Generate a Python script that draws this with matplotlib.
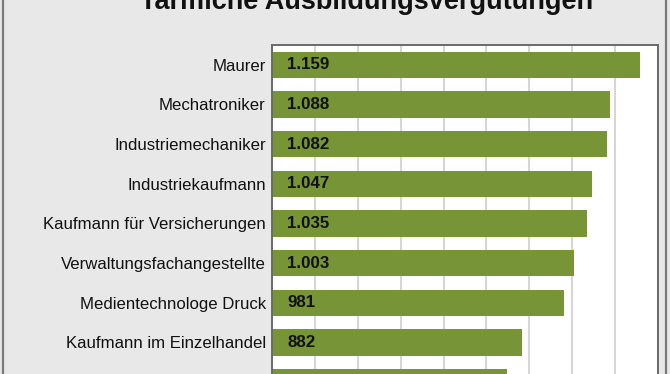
import matplotlib.pyplot as plt
from matplotlib.lines import Line2D

# Data (last bar is cut off at the bottom)
berufe = ['Maurer', 'Mechatroniker', 'Industriemechaniker', 'Industriekaufmann',
          'Kaufmann für Versicherungen', 'Verwaltungsfachangestellte',
          'Medientechnologe Druck', 'Kaufmann im Einzelhandel',
          'Kaufmann für Büromanagement']
verguetung = [1159, 1088, 1082, 1047, 1035, 1003, 981, 882, 849]
x_ticks = list(range(300, 1201, 100))

bar_color = '#779537'
bg_color = '#e8e8e8'


def fmt_de(v):
    return '{:,}'.format(v).replace(',', '.')


def main():
    plt.rcParams['font.family'] = ['Liberation Sans', 'DejaVu Sans']
    fig = plt.figure(figsize=(6.7, 3.74), dpi=100, facecolor=bg_color)

    # axes box: x 272..658 px, y 45..402 px (runs off the bottom edge)
    W, H = 670.0, 374.0
    ax = fig.add_axes([272 / W, (H - 402) / H, 386 / W, 357 / H])
    ax.set_facecolor('white')

    y = list(range(len(berufe)))
    ax.barh(y, verguetung, height=0.66, color=bar_color, left=0, zorder=2)
    ax.set_xlim(x_ticks[0], x_ticks[-1])
    ax.set_ylim(len(berufe) - 0.5, -0.5)

    ax.set_xticks(x_ticks)
    ax.xaxis.grid(True, color='#d6d6d6', linewidth=1.5, zorder=0)
    ax.set_axisbelow(True)
    ax.tick_params(axis='x', bottom=False, labelbottom=False)
    ax.set_yticks(y)
    ax.set_yticklabels(berufe, fontsize=12.1, color='#111111')
    ax.tick_params(axis='y', left=False, pad=1)

    for s in ax.spines.values():
        s.set_color('#6a6a6a')
        s.set_linewidth(1.4)

    for i, v in enumerate(verguetung):
        ax.annotate(fmt_de(v), xy=(x_ticks[0], i), xytext=(11, 0),
                    textcoords='offset points', va='center', ha='left',
                    fontsize=12.2, fontweight='bold', color='#111111', zorder=3)

    # title, cut off at the top of the picture
    fig.text(367 / W, (H - 9) / H, 'Tarifliche Ausbildungsvergütungen',
             ha='center', va='baseline', fontsize=19.5, fontweight='bold',
             color='#111111')

    # outer frame lines
    for xp in (3, 666):
        fig.add_artist(Line2D([xp / W, xp / W], [0, 1], transform=fig.transFigure,
                              color='#7a7a7a', linewidth=1.6))

    fig.savefig('out.png', dpi=100, facecolor=bg_color)


if __name__ == '__main__':
    main()
